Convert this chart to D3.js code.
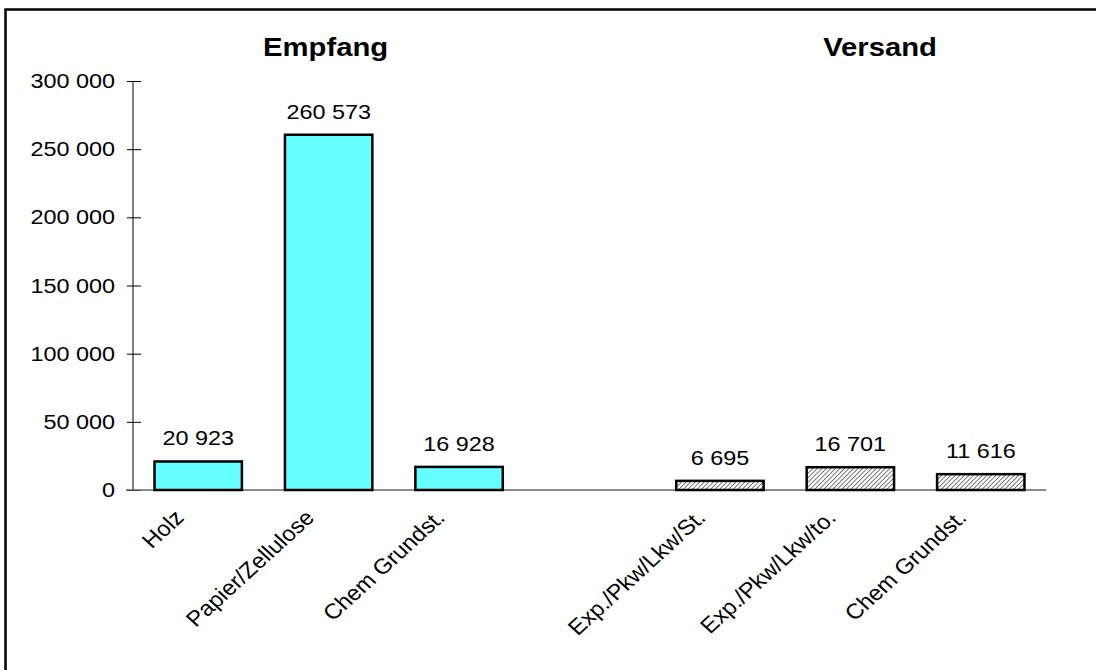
<!DOCTYPE html>
<html lang="de">
<head>
    <meta charset="UTF-8">
    <title>Empfang / Versand</title>
    <script src="https://d3js.org/d3.v7.min.js"></script>
    <style>
        body { margin: 0; background: #fff; overflow: hidden; }
        svg { display: block; font-family: "Liberation Sans", Arial, sans-serif; }
        .val { font-size: 19.5px; text-anchor: middle; fill: #000; }
        .tick-label { font-size: 19.5px; text-anchor: end; fill: #000; }
        .cat { font-size: 21.5px; text-anchor: end; fill: #000; }
        .title { font-size: 25px; font-weight: bold; text-anchor: middle; }
    </style>
</head>
<body>
<svg id="chart" width="1096" height="670"></svg>
<script>
    // categories (one empty slot between the two groups)
    const categories = ["Holz", "Papier/Zellulose", "Chem Grundst.", "", "Exp./Pkw/Lkw/St.", "Exp./Pkw/Lkw/to.", "Chem Grundst. "];
    const empfangValues = [20923, 260573, 16928, null, null, null, null];
    const versandValues = [null, null, null, null, 6695, 16701, 11616];
    const yTicks = [0, 50000, 100000, 150000, 200000, 250000, 300000];
    const groupTitles = ["Empfang", "Versand"];

    const sx = 1.2; // glyphs in the picture are stretched horizontally
    const fmt = v => d3.format(",")(v).replace(/,/g, " ");

    const svg = d3.select("#chart");

    // hatch for Versand bars
    const defs = svg.append("defs");
    defs.append("pattern")
        .attr("id", "hatch")
        .attr("patternUnits", "userSpaceOnUse")
        .attr("width", 3.2).attr("height", 3.2)
        .attr("patternTransform", "rotate(45)")
        .call(p => {
            p.append("rect").attr("width", 3.2).attr("height", 3.2).attr("fill", "#fff");
            p.append("line").attr("x1", 0).attr("y1", 0).attr("x2", 0).attr("y2", 3.2)
                .attr("stroke", "#444").attr("stroke-width", 1.4);
        });

    // outer frame (only top and left visible)
    svg.append("path")
        .attr("d", "M5.5,670 V9.5 H1096")
        .attr("fill", "none").attr("stroke", "#000").attr("stroke-width", 2.5);

    const x = d3.scaleBand().domain(d3.range(categories.length)).range([133, 1046]).paddingInner(0.33).paddingOuter(0.165);
    const y = d3.scaleLinear().domain([0, 300000]).range([490, 81]);

    // y axis
    const yAxis = svg.append("g").attr("transform", "translate(133,0)")
        .call(d3.axisLeft(y).tickValues(yTicks).tickSize(6).tickFormat(""));
    yAxis.select(".domain").attr("d", "M0," + y(300000) + "V" + y(0)).attr("stroke", "#000");
    yAxis.selectAll(".tick line").attr("x1", -6).attr("x2", 8).attr("stroke", "#000");

    svg.append("g").selectAll("text")
        .data(yTicks).join("text")
        .attr("class", "tick-label")
        .attr("transform", d => `translate(115,${y(d) + 7}) scale(${sx},1)`)
        .text(fmt);

    // x axis baseline
    svg.append("line")
        .attr("x1", 126).attr("x2", 1046)
        .attr("y1", y(0)).attr("y2", y(0))
        .attr("stroke", "#666").attr("stroke-width", 1.5);

    // bars
    const bars = categories.map((c, i) => ({
        i,
        v: empfangValues[i] != null ? empfangValues[i] : versandValues[i],
        hatch: versandValues[i] != null
    })).filter(d => d.v != null);

    svg.append("g").selectAll("rect")
        .data(bars).join("rect")
        .attr("x", d => x(d.i))
        .attr("width", x.bandwidth())
        .attr("y", d => y(d.v))
        .attr("height", d => y(0) - y(d.v))
        .attr("fill", d => d.hatch ? "url(#hatch)" : "#66ffff")
        .attr("stroke", "#000").attr("stroke-width", 2.5);

    // value labels
    svg.append("g").selectAll("text")
        .data(bars).join("text")
        .attr("class", "val")
        .attr("transform", d => `translate(${x(d.i) + x.bandwidth() / 2},${y(d.v) - 16}) scale(${sx},1)`)
        .text(d => fmt(d.v));

    // category labels, rotated
    svg.append("g").selectAll("text")
        .data(categories.map((c, i) => ({ c, i })).filter(d => d.c !== ""))
        .join("text")
        .attr("class", "cat")
        .attr("transform", d => `translate(${x(d.i) + x.bandwidth() / 2 - 13},${y(0) + 29}) scale(1.1,1) rotate(-45)`)
        .text(d => d.c.trim());

    // group titles
    svg.append("g").selectAll("text")
        .data(groupTitles).join("text")
        .attr("class", "title")
        .attr("transform", (d, i) => `translate(${i === 0 ? x(1) + x.bandwidth() / 2 - 3 : 880},56) scale(1.17,1)`)
        .text(d => d);
</script>
</body>
</html>
